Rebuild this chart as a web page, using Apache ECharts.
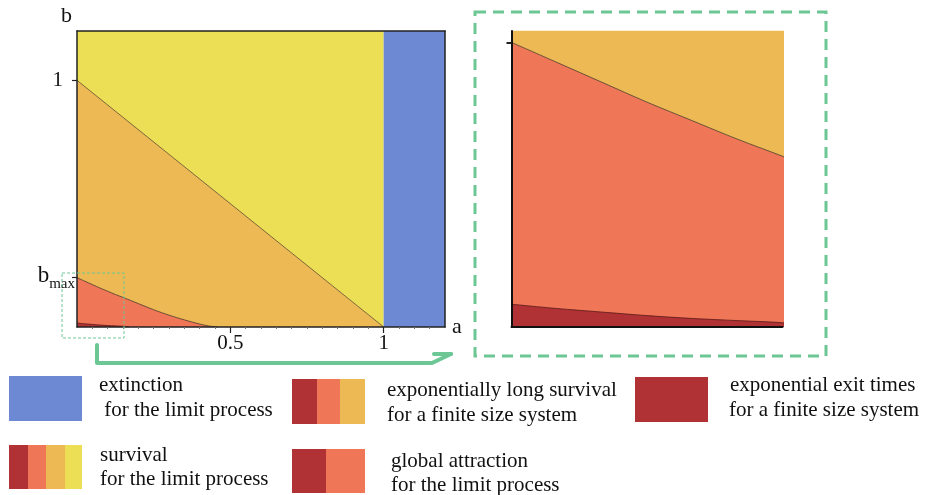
<!DOCTYPE html>
<html>
<head>
<meta charset="utf-8">
<script src="https://cdn.jsdelivr.net/npm/echarts@6/dist/echarts.min.js"></script>
<style>html,body{margin:0;padding:0;background:#fff}#c{width:927px;height:495px}</style>
</head>
<body>
<div id="c"></div>
<script>
// ---- data ----
const mainMax = 1.2;                 // both axes of the main panel run 0..1.2
const extinctionA = [1, 1.2];        // a-range of the extinction band
const diagonalA = [0, 1];            // survival boundary b = 1 - a
const diagonalB = [1, 0];
const curveA = [0, 0.025, 0.05, 0.075, 0.1, 0.125, 0.15, 0.2, 0.25, 0.3, 0.35, 0.4, 0.43, 0.46];
const curveB = [0.2, 0.186, 0.172, 0.158, 0.145, 0.132, 0.12, 0.095, 0.07, 0.048, 0.029, 0.012, 0.004, 0];
const exitA = [0, 0.025, 0.05, 0.075, 0.1, 0.125, 0.15, 0.17];
const exitB = [0.016, 0.013, 0.0105, 0.008, 0.006, 0.0045, 0.003, 0];
const xTickValues = [0.5, 1];
const yTickValues = [0.2, 1];
const zoomAMax = 0.15;
const zoomBMax = 0.208;
const zoomTick = [0.2];

const C = {
  blue: '#6e89d3', yellow: '#ecdf55', orange: '#edb954', red: '#ef7656', dark: '#b03234',
  green: '#6cc795', edge: '#4a3d30'
};
const FONT = 'Liberation Serif';

const pairs = (xs, ys) => xs.map((x, i) => [x, ys[i]]);

function regionSeries(g) {
  const base = { type: 'line', xAxisIndex: g === 0 ? 0 : 2, yAxisIndex: g === 0 ? 0 : 2,
    symbol: 'none', silent: true, clip: true, animation: false };
  return [
    Object.assign({}, base, { name: 'survival-top', data: [[0, mainMax], [diagonalA[1], mainMax]],
      lineStyle: { width: 0 }, areaStyle: { color: C.yellow, opacity: 1 }, z: 1 }),
    Object.assign({}, base, { name: 'extinction', data: extinctionA.map(a => [a, mainMax]),
      lineStyle: { width: 0 }, areaStyle: { color: C.blue, opacity: 1 }, z: 1 }),
    Object.assign({}, base, { name: 'expo', data: pairs(diagonalA, diagonalB),
      lineStyle: { width: 0.7, color: C.edge }, areaStyle: { color: C.orange, opacity: 1 }, z: 2 }),
    Object.assign({}, base, { name: 'global', data: pairs(curveA, curveB), smooth: 0.3,
      lineStyle: { width: 0.8, color: C.edge }, areaStyle: { color: C.red, opacity: 1 }, z: 3 }),
    Object.assign({}, base, { name: 'exit', data: pairs(exitA, exitB), smooth: 0.3,
      lineStyle: { width: 0.8, color: '#5a1a1a' }, areaStyle: { color: C.dark, opacity: 1 }, z: 4 })
  ];
}

const chart = echarts.init(document.getElementById('c'), null, { renderer: 'canvas' });

const txt = (x, y, s, size) => ({
  type: 'text', x: x, y: y, silent: true, z: 100,
  style: { text: s, font: (size || 21) + 'px "' + FONT + '"', fill: '#111', textVerticalAlign: 'middle' }
});

const sw = (x, y, w, h, color) => ({ type: 'rect', silent: true, shape: { x: x, y: y, width: w, height: h }, style: { fill: color } });

const frameAxis = { axisTick: { show: false }, axisLabel: { show: false }, splitLine: { show: false }, z: 10 };

const option = {
  animation: false,
  grid: [
    { left: 77, top: 31, width: 368, height: 296 },
    { left: 511.5, top: 31, width: 271, height: 296 }
  ],
  xAxis: [
    { gridIndex: 0, type: 'value', min: 0, max: mainMax, interval: 0.5, z: 10,
      axisLine: { onZero: false, lineStyle: { color: '#222', width: 1.5 } },
      axisTick: { customValues: xTickValues, length: 6, lineStyle: { color: '#222', width: 1.2 } },
      minorTick: { show: true, splitNumber: 10, length: 2, lineStyle: { color: '#777' } },
      axisLabel: { customValues: xTickValues, margin: 6, fontFamily: FONT, fontSize: 21, color: '#111',
        formatter: v => String(v) },
      splitLine: { show: false }, minorSplitLine: { show: false } },
    Object.assign({ gridIndex: 0, type: 'value', position: 'top', min: 0, max: mainMax,
      axisLine: { onZero: false, lineStyle: { color: '#222', width: 1.5 } } }, frameAxis),
    Object.assign({ gridIndex: 1, type: 'value', min: 0, max: zoomAMax,
      axisLine: { onZero: false, lineStyle: { color: '#111', width: 2 } } }, frameAxis)
  ],
  yAxis: [
    { gridIndex: 0, type: 'value', min: 0, max: mainMax, z: 10,
      axisLine: { onZero: false, lineStyle: { color: '#222', width: 1.5 } },
      axisTick: { customValues: yTickValues, length: 5, lineStyle: { color: '#222', width: 1.2 } },
      axisLabel: { customValues: yTickValues, margin: 2, fontFamily: FONT, color: '#111',
        formatter: v => v === 1 ? '{one|1}' : '{b|b}{s|max}',
        rich: {
          one: { fontFamily: FONT, fontSize: 21, padding: [0, 12, 0, 0] },
          b: { fontFamily: FONT, fontSize: 23, padding: [0, 0, 4, 0] },
          s: { fontFamily: FONT, fontSize: 15, padding: [12, 0, 0, 0] }
        } },
      splitLine: { show: false } },
    Object.assign({ gridIndex: 0, type: 'value', position: 'right', min: 0, max: mainMax,
      axisLine: { onZero: false, lineStyle: { color: '#222', width: 1.5 } } }, frameAxis),
    { gridIndex: 1, type: 'value', min: 0, max: zoomBMax, z: 10,
      axisLine: { onZero: false, lineStyle: { color: '#111', width: 2 } },
      axisTick: { customValues: zoomTick, length: 5, lineStyle: { color: '#222', width: 2 } },
      axisLabel: { show: false }, splitLine: { show: false } }
  ],
  series: regionSeries(0).concat(regionSeries(1)),
  graphic: [
    // axis names
    txt(61, 16, 'b', 22),
    txt(452, 327, 'a', 22),
    // zoom indicator
    { type: 'rect', silent: true, z: 100, shape: { x: 62, y: 273, width: 62, height: 65 },
      style: { fill: 'none', stroke: C.green, lineWidth: 1, lineDash: [3, 2] } },
    { type: 'rect', silent: true, z: 100, shape: { x: 475, y: 12, width: 351, height: 344 },
      style: { fill: 'none', stroke: C.green, lineWidth: 3, lineDash: [11, 7] } },
    { type: 'polyline', silent: true, z: 100, shape: { points: [[97, 345], [97, 363], [432, 363], [451, 354]] },
      style: { fill: 'none', stroke: C.green, lineWidth: 4, lineJoin: 'round', lineCap: 'round' } },
    { type: 'polyline', silent: true, z: 100, shape: { points: [[434, 354], [451, 354]] },
      style: { fill: 'none', stroke: C.green, lineWidth: 4, lineCap: 'round' } },
    // legend swatches
    sw(9, 376, 73, 45, C.blue),
    sw(9, 445, 19, 44, C.dark), sw(28, 445, 18, 44, C.red), sw(46, 445, 19, 44, C.orange), sw(65, 445, 17, 44, C.yellow),
    sw(292, 379, 25, 45, C.dark), sw(317, 379, 23, 45, C.red), sw(340, 379, 25, 45, C.orange),
    sw(292, 449, 34, 44, C.dark), sw(326, 449, 39, 44, C.red),
    sw(635, 377, 73, 45, C.dark),
    // legend texts
    txt(99, 385, 'extinction'), txt(99, 410, ' for the limit process'),
    txt(100, 455, 'survival'), txt(100, 479, 'for the limit process'),
    txt(387, 390, 'exponentially long survival'), txt(387, 415, 'for a finite size system'),
    txt(391, 461, 'global attraction'), txt(391, 485, 'for the limit process'),
    txt(730, 385, 'exponential exit times'), txt(729, 410, 'for a finite size system')
  ]
};
chart.setOption(option);
</script>
</body>
</html>
